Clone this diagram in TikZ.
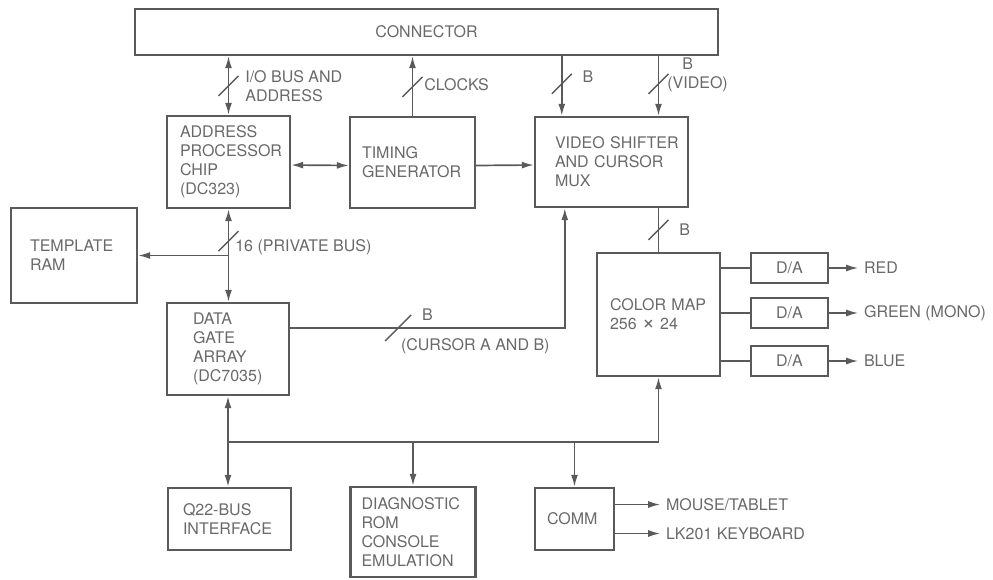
\documentclass[tikz,border=0pt]{standalone}
\usepackage{fontspec}
\setmainfont{TeX Gyre Heros}
\usetikzlibrary{arrows.meta,positioning}
\definecolor{linegray}{RGB}{90,90,90}
\definecolor{textgray}{RGB}{105,105,105}

\begin{document}
\begin{tikzpicture}[x=1pt, y=-1pt, >={Latex[length=12pt,width=7pt]},
    font=\fontsize{16}{19}\selectfont, color=linegray, text=textgray, line width=1.7pt]
    % Define styles
    \tikzstyle{block} = [rectangle, draw=linegray, line width=2.4pt, align=left, inner ysep=0pt]
    \tikzstyle{dac} = [rectangle, draw=linegray, line width=2.4pt, minimum width=77pt, minimum height=30pt, inner sep=0pt]
    \tikzstyle{lbl} = [inner sep=0pt, anchor=west, align=left]
    \tikzstyle{outlbl} = [inner xsep=5pt, inner ysep=0pt, anchor=west]
    \tikzstyle{slash} = [line width=1.4pt]

    \path[use as bounding box] (0,0) rectangle (993,579);

    % Nodes
    \node[block, align=center, minimum width=583pt, minimum height=46pt] (connector) at (426.5,32) {CONNECTOR};
    \node[block, minimum height=92pt, text width=97pt, inner xsep=13pt] (apc) at (228.5,162) {ADDRESS\\PROCESSOR\\CHIP\\(DC323)};
    \node[block, minimum height=91pt, text width=101pt, inner xsep=12pt] (timing) at (412.5,162.5) {TIMING\\GENERATOR};
    \node[block, minimum height=90pt, text width=113pt, inner xsep=20pt] (video) at (611.5,162) {VIDEO~SHIFTER\\AND~CURSOR\\MUX};
    \node[block, minimum height=95pt, text width=88pt, inner xsep=19pt] (template) at (74,255.5) {TEMPLATE\\RAM};
    \node[block, minimum height=92pt, text width=70pt, inner xsep=26pt] (dga) at (228,349) {DATA\\GATE\\ARRAY\\(DC7035)};
    \node[block, minimum height=123pt, text width=97pt, inner xsep=13pt] (colormap) at (658.5,314.5) {COLOR~MAP\\256~{\fontsize{22}{19}\selectfont ×}~24};
    \node[dac] (dared) at (789.5,268) {D/A};
    \node[dac] (dagreen) at (789.5,313) {D/A};
    \node[dac] (dablue) at (789.5,361) {D/A};
    \node[block, minimum height=62pt, text width=93pt, inner xsep=15pt] (q22) at (229.5,519) {Q22-BUS\\INTERFACE};
    \node[block, minimum height=90pt, text width=103pt, inner xsep=11pt] (diag) at (413,532) {DIAGNOSTIC\\ROM\\CONSOLE\\EMULATION};
    \node[block, minimum height=62pt, text width=55pt, inner xsep=12pt] (comm) at (574.5,519) {COMM};

    \node[outlbl, right=29pt of dared] (red) {RED};
    \node[outlbl, right=29pt of dagreen] (green) {GREEN (MONO)};
    \node[outlbl, right=29pt of dablue] (blue) {BLUE};
    \node[outlbl, right=45pt of comm, yshift=14.5pt] (mouse) {MOUSE/TABLET};
    \node[outlbl, right=45pt of comm, yshift=-14.5pt] (kbd) {LK201 KEYBOARD};

    % Helper points
    \coordinate (vidB) at ([xshift=28pt]video.north west);
    \coordinate (vidV) at (video.north -| colormap.north);
    \coordinate (pbus) at (apc.south |- template.east);
    \coordinate (cur) at ([yshift=21pt]dga.east);
    \coordinate (busL) at (228,442);
    \coordinate (busR) at (colormap.south |- busL);

    % Connections
    \draw[<->] (connector.south -| apc.north) -- (apc.north);
    \draw[->] (timing.north) -- (connector.south -| timing.north);
    \draw[->] (connector.south -| vidB) -- (vidB);
    \draw[->] (connector.south -| vidV) -- (vidV);
    \draw[<->] ([yshift=-3pt]apc.east) -- ([yshift=-3pt]timing.west);
    \draw[->] ([yshift=-3pt]timing.east) -- ([yshift=-3pt]video.west);
    \draw[<->] (apc.south) -- (apc.south |- dga.north);
    \draw[->] (pbus) -- (template.east);
    \draw[->] (cur) -| ([xshift=31pt]video.south west);
    \draw (video.south -| colormap.north) -- (colormap.north);
    \draw (colormap.east |- dared.west) -- (dared.west);
    \draw (colormap.east |- dagreen.west) -- (dagreen.west);
    \draw (colormap.east |- dablue.west) -- (dablue.west);
    \draw[->] (dared) -- (red);
    \draw[->] (dagreen) -- (green);
    \draw[->] (dablue) -- (blue);
    \draw[<->] (dga.south) -- (dga.south |- q22.north);
    \draw (busL) -- (busR);
    \draw[->] (busR) -- (colormap.south);
    \draw[->] (busL -| diag.north) -- (diag.north);
    \draw[->] (busL -| comm.north) -- (comm.north);
    \draw[->] ([yshift=14.5pt]comm.east) -- (mouse.west);
    \draw[->] ([yshift=-14.5pt]comm.east) -- (kbd.west);

    % Bus width marks
    \coordinate (sIO) at ([yshift=29pt]apc.north);
    \coordinate (sCLK) at ([yshift=29pt]timing.north);
    \coordinate (sB) at ([yshift=32pt]vidB);
    \coordinate (sVID) at ([yshift=32pt]vidV);
    \coordinate (sPB) at ([yshift=-32pt]apc.south);
    \coordinate (sCM) at ([yshift=22pt]colormap.north);
    \coordinate (sCUR) at ([xshift=108pt]cur);
    \foreach \s in {sIO,sCLK,sB,sVID,sPB,sCM}
        \draw[slash] (\s) ++(-10,10) -- ++(20,-20);
    \draw[slash] (sCUR) ++(-13,13) -- ++(26,-26);

    % Bus labels
    \node[lbl, right=16pt of sIO] (iolbl) {I/O BUS AND\\ADDRESS};
    \node[lbl, right=11pt of sCLK, yshift=2pt] (clklbl) {CLOCKS};
    \node[lbl, right=20pt of sB, yshift=7pt] (blbl) {B};
    \node[lbl, right=8pt of sVID, yshift=8.5pt] (vidlbl) {\hspace*{15pt}B\\(VIDEO)};
    \node[lbl, right=6pt of sPB, yshift=-6pt] (pblbl) {16 (PRIVATE BUS)};
    \node[lbl, right=23pt of sCUR, yshift=13pt] (curblbl) {B};
    \node[lbl, right=2pt of sCUR, yshift=-18pt] (curlbl) {(CURSOR A AND B)};
    \node[lbl, right=20pt of sCM] (cmlbl) {B};
\end{tikzpicture}
\end{document}
